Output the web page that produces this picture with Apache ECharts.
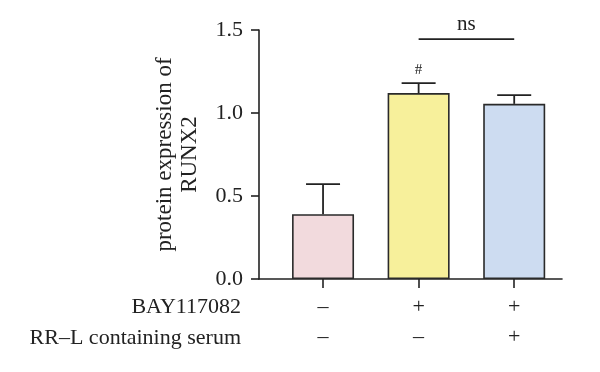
<!DOCTYPE html>
<html>
<head>
<meta charset="utf-8">
<script src="https://cdn.jsdelivr.net/npm/echarts@6/dist/echarts.min.js"></script>
<style>html,body{margin:0;padding:0;background:#fff}#c{width:600px;height:372px}</style>
</head>
<body>
<div id="c"></div>
<script>
// ---- data ----
var groupPos = [1, 2, 3];
var bay117082 = ['–', '+', '+'];
var rrlSerum = ['–', '–', '+'];
var meanValues = [0.39, 1.12, 1.055];
var errValues = [0.182, 0.06, 0.053];
var markSymbols = ['', '#', ''];
var barColors = ['#f2dadd', '#f7f09b', '#cddcf1'];
var rowHeaders = ['BAY117082', 'RR–L containing serum'];
var sigPair = [2, 3];
var sigLevel = 1.445;
var sigText = 'ns';

var FONT = '"Liberation Serif", "DejaVu Serif", serif';
var INK = '#222';

var chart = echarts.init(document.getElementById('c'));
chart.setOption({
  animation: false,
  grid: { left: 259, top: 30, right: 38, bottom: 93, containLabel: false, outerBoundsMode: 'none' },
  xAxis: {
    type: 'value',
    min: 0.33, max: 3.5,
    splitLine: { show: false },
    axisLine: { show: true, lineStyle: { color: INK, width: 1.6 } },
    axisTick: { show: true, customValues: groupPos, length: 9, lineStyle: { color: INK, width: 1.6 } },
    axisLabel: {
      customValues: groupPos,
      margin: 13,
      lineHeight: 30,
      fontFamily: FONT, fontSize: 22, color: INK,
      formatter: function (v) {
        var i = groupPos.indexOf(Math.round(v));
        return i < 0 ? '' : bay117082[i] + '\n' + rrlSerum[i];
      }
    },
    name: rowHeaders.join('\n'),
    nameLocation: 'start',
    nameGap: 18,
    nameMoveOverlap: false,
    nameTextStyle: {
      fontFamily: FONT, fontSize: 22, color: INK,
      align: 'right', verticalAlign: 'top', lineHeight: 31,
      padding: [13, 0, 0, 0]
    }
  },
  yAxis: {
    type: 'value',
    min: 0, max: 1.5, interval: 0.5,
    splitLine: { show: false },
    axisLine: { show: true, lineStyle: { color: INK, width: 1.6 } },
    axisTick: { show: true, length: 8, lineStyle: { color: INK, width: 1.6 } },
    axisLabel: {
      margin: 16, fontFamily: FONT, fontSize: 22, color: INK,
      formatter: function (v) { return v.toFixed(1); }
    },
    name: 'protein expression of\nRUNX2',
    nameLocation: 'middle',
    nameGap: 57,
    nameMoveOverlap: false,
    nameTextStyle: { fontFamily: FONT, fontSize: 23, color: INK, lineHeight: 25 }
  },
  series: [
    {
      type: 'bar',
      barWidth: 62,
      data: groupPos.map(function (x, i) {
        return { value: [x, meanValues[i]], itemStyle: { color: barColors[i] } };
      }),
      itemStyle: { borderColor: '#2a2a2a', borderWidth: 1.6 }
    },
    {
      type: 'custom',
      clip: false,
      z: 5,
      data: groupPos.map(function (x, i) { return [x, meanValues[i], errValues[i], i]; }),
      renderItem: function (params, api) {
        var x = api.value(0), m = api.value(1), e = api.value(2), i = api.value(3);
        var base = api.coord([x, m]);
        var top = api.coord([x, m + e]);
        var children = [
          { type: 'line', shape: { x1: base[0], y1: base[1], x2: top[0], y2: top[1] }, style: { stroke: INK, lineWidth: 1.8 } },
          { type: 'line', shape: { x1: top[0] - 17, y1: top[1], x2: top[0] + 17, y2: top[1] }, style: { stroke: INK, lineWidth: 1.8 } }
        ];
        var s = markSymbols[i];
        if (s) {
          children.push({ type: 'text', style: { text: s, x: top[0], y: top[1] - 13, align: 'center', verticalAlign: 'middle', font: '15px ' + FONT, fill: INK } });
        }
        return { type: 'group', children: children };
      }
    },
    {
      type: 'custom',
      clip: false,
      z: 5,
      data: [[sigPair[0], sigPair[1], sigLevel]],
      renderItem: function (params, api) {
        var a = api.coord([api.value(0), api.value(2)]);
        var b = api.coord([api.value(1), api.value(2)]);
        return {
          type: 'group',
          children: [
            { type: 'line', shape: { x1: a[0], y1: a[1], x2: b[0], y2: b[1] }, style: { stroke: INK, lineWidth: 1.6 } },
            { type: 'text', style: { text: sigText, x: (a[0] + b[0]) / 2, y: a[1] - 15, align: 'center', verticalAlign: 'middle', font: '21px ' + FONT, fill: INK } }
          ]
        };
      }
    }
  ]
});
</script>
</body>
</html>
